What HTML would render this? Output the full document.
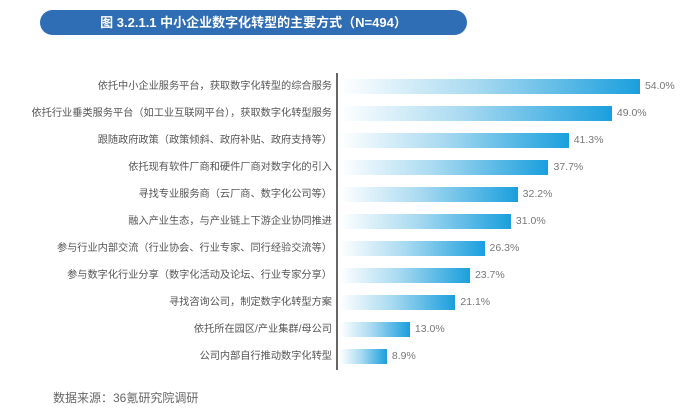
<!DOCTYPE html>
<html><head><meta charset="utf-8"><style>
body{margin:0;width:700px;height:420px;background:#fff;position:relative;overflow:hidden;font-family:"Liberation Sans","Noto Sans CJK SC",sans-serif}
.ban{position:absolute;left:40px;top:10px;width:427px;height:25px;background:#2f6db5;border-radius:13px;color:#fff;font-weight:bold;font-size:13px;line-height:25px;text-align:center}
.ax{position:absolute;left:336px;top:73px;width:2px;height:297px;background:#666}
.lab{position:absolute;right:368px;font-size:10.2px;color:#555;white-space:nowrap;line-height:15px}
.bar{position:absolute;left:340px;height:15px;background:linear-gradient(to right,#ffffff,#a9daf1 45%,#1a9fdd)}
.val{position:absolute;font-size:10.5px;color:#777;line-height:15px}
.src{position:absolute;left:53px;top:389px;font-size:12px;color:#666}
</style></head><body>
<div class="ban">图 3.2.1.1 中小企业数字化转型的主要方式（N=494）</div>
<div class="ax"></div>
<div id="c"></div>
<div class="src">数据来源：36氪研究院调研</div>
<script>
var d=[["依托中小企业服务平台，获取数字化转型的综合服务",54.0],["依托行业垂类服务平台（如工业互联网平台），获取数字化转型服务",49.0],["跟随政府政策（政策倾斜、政府补贴、政府支持等）",41.3],["依托现有软件厂商和硬件厂商对数字化的引入",37.7],["寻找专业服务商（云厂商、数字化公司等）",32.2],["融入产业生态，与产业链上下游企业协同推进",31.0],["参与行业内部交流（行业协会、行业专家、同行经验交流等）",26.3],["参与数字化行业分享（数字化活动及论坛、行业专家分享）",23.7],["寻找咨询公司，制定数字化转型方案",21.1],["依托所在园区/产业集群/母公司",13.0],["公司内部自行推动数字化转型",8.9]];
var h="";d.forEach(function(r,i){var y=79+i*27,w=r[1]*5.61-3;
h+='<div class="lab" style="top:'+y+'px">'+r[0]+'</div><div class="bar" style="top:'+y+'px;width:'+w+'px"></div><div class="val" style="top:'+y+'px;left:'+(340+w+5)+'px">'+r[1].toFixed(1)+'%</div>';});
document.getElementById("c").innerHTML=h;
</script>
</body></html>
